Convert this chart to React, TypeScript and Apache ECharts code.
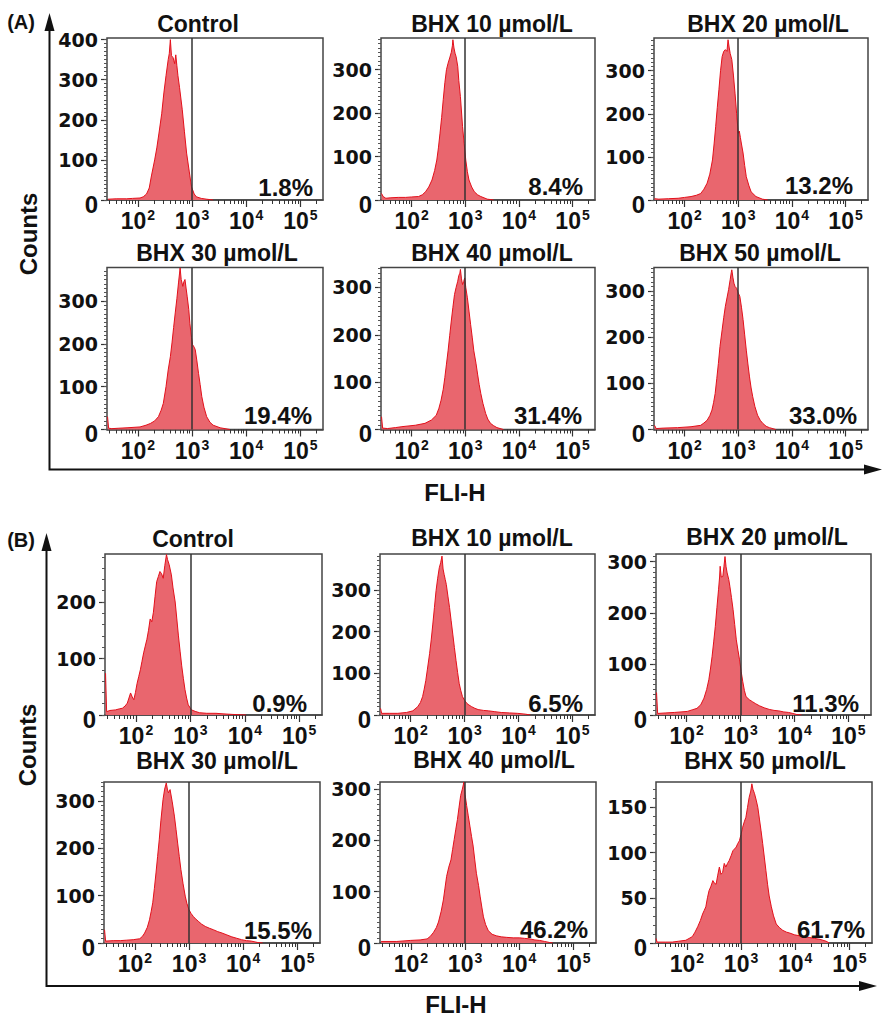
import React, { useEffect, useRef } from "react";
import * as echarts from "echarts";

// ---------- DATA (x = log10 of FL1-H fluorescence, y = cell counts) ----------
const A_CONTROL = [[1.45,2],[1.6,3],[1.79,3],[1.9,4],[2.04,5],[2.1,8],[2.16,15],[2.21,30],[2.25,60],[2.31,100],[2.35,130],[2.39,167],[2.44,215],[2.48,267],[2.52,310],[2.56,350],[2.58,365],[2.6,400],[2.62,360],[2.65,355],[2.68,340],[2.7,362],[2.72,335],[2.74,310],[2.77,280],[2.82,225],[2.86,170],[2.9,117],[2.95,70],[2.99,33],[3.04,15],[3.08,8],[3.17,4],[3.27,2],[3.39,0]];
const A_BHX10 = [[1.44,15],[1.47,8],[1.52,4],[1.6,5],[1.75,6],[1.89,6],[2.0,7],[2.13,8],[2.2,12],[2.26,19],[2.32,30],[2.38,46],[2.43,68],[2.47,92],[2.5,120],[2.53,154],[2.56,190],[2.59,231],[2.62,270],[2.65,300],[2.68,315],[2.71,327],[2.74,340],[2.76,355],[2.77,369],[2.79,350],[2.81,338],[2.83,330],[2.86,308],[2.88,275],[2.91,238],[2.95,169],[2.98,130],[3.01,92],[3.04,65],[3.07,46],[3.12,30],[3.17,19],[3.23,12],[3.29,8],[3.35,5],[3.41,2],[3.53,0]];
const A_BHX20 = [[1.44,3],[1.52,2],[1.7,3],[1.88,4],[2.0,6],[2.12,8],[2.22,11],[2.3,15],[2.36,25],[2.42,39],[2.47,60],[2.52,93],[2.55,130],[2.58,171],[2.61,215],[2.64,256],[2.67,300],[2.7,333],[2.73,345],[2.76,349],[2.79,345],[2.81,372],[2.83,355],[2.85,340],[2.88,326],[2.91,290],[2.94,248],[2.97,200],[3.0,155],[3.02,160],[3.04,145],[3.06,130],[3.09,109],[3.12,80],[3.15,54],[3.2,33],[3.24,19],[3.33,8],[3.45,2],[3.55,0]];
const A_BHX30 = [[1.44,30],[1.46,3],[1.52,2],[1.65,3],[1.8,4],[2.04,6],[2.15,10],[2.23,14],[2.31,20],[2.38,30],[2.43,45],[2.47,61],[2.52,100],[2.56,139],[2.6,170],[2.63,202],[2.66,238],[2.69,272],[2.72,305],[2.75,342],[2.77,365],[2.78,377],[2.8,350],[2.83,334],[2.85,345],[2.87,350],[2.89,330],[2.91,311],[2.94,280],[2.96,248],[2.99,215],[3.01,198],[3.04,192],[3.06,186],[3.09,160],[3.12,131],[3.15,105],[3.18,77],[3.22,52],[3.27,30],[3.33,17],[3.39,10],[3.52,4],[3.7,0]];
const A_BHX40 = [[1.44,27],[1.46,3],[1.55,2],[1.7,4],[1.82,6],[2.07,9],[2.25,13],[2.37,20],[2.46,30],[2.51,45],[2.55,62],[2.59,85],[2.62,110],[2.65,138],[2.68,166],[2.71,198],[2.74,229],[2.77,258],[2.8,285],[2.83,300],[2.86,313],[2.88,325],[2.9,330],[2.91,338],[2.93,318],[2.95,306],[2.97,312],[2.99,320],[3.01,300],[3.04,278],[3.07,250],[3.1,222],[3.13,195],[3.16,166],[3.2,140],[3.23,117],[3.26,95],[3.29,76],[3.33,55],[3.38,34],[3.42,22],[3.47,13],[3.53,8],[3.59,4],[3.71,0]];
const A_BHX50 = [[1.44,9],[1.47,2],[1.6,3],[1.87,4],[2.12,6],[2.3,9],[2.36,14],[2.42,20],[2.47,30],[2.51,42],[2.54,58],[2.57,78],[2.6,110],[2.63,143],[2.66,180],[2.7,216],[2.73,243],[2.76,267],[2.79,285],[2.82,303],[2.85,325],[2.87,340],[2.88,346],[2.9,330],[2.92,317],[2.94,310],[2.97,306],[3.0,296],[3.03,288],[3.06,265],[3.09,238],[3.12,205],[3.15,172],[3.18,142],[3.21,114],[3.24,90],[3.27,71],[3.31,50],[3.36,31],[3.41,20],[3.46,13],[3.52,7],[3.58,4],[3.7,0]];
const B_CONTROL = [[1.44,74],[1.46,6],[1.52,8],[1.62,9],[1.7,11],[1.75,12],[1.8,16],[1.84,21],[1.87,30],[1.9,39],[1.93,32],[1.96,27],[1.99,40],[2.02,56],[2.05,68],[2.08,80],[2.11,95],[2.14,110],[2.17,122],[2.2,134],[2.23,150],[2.26,170],[2.29,165],[2.32,182],[2.35,210],[2.38,236],[2.41,245],[2.44,254],[2.47,250],[2.5,242],[2.53,265],[2.56,284],[2.58,275],[2.61,266],[2.65,248],[2.68,225],[2.72,200],[2.75,170],[2.78,140],[2.81,113],[2.84,87],[2.87,65],[2.9,45],[2.93,30],[2.96,18],[3.02,9],[3.1,6],[3.17,4],[3.3,3],[3.47,3],[3.6,2],[3.78,1],[4.02,0]];
const B_BHX10 = [[1.44,16],[1.46,4],[1.6,4],[1.76,4],[1.92,6],[2.04,10],[2.13,20],[2.18,30],[2.22,44],[2.25,62],[2.28,83],[2.31,110],[2.35,147],[2.38,180],[2.41,218],[2.44,258],[2.47,298],[2.5,328],[2.53,353],[2.555,365],[2.58,381],[2.6,350],[2.62,337],[2.64,325],[2.66,313],[2.69,285],[2.72,258],[2.75,226],[2.78,194],[2.81,162],[2.84,131],[2.87,102],[2.9,75],[2.93,58],[2.96,44],[3.0,35],[3.04,28],[3.08,24],[3.13,20],[3.19,16],[3.25,13],[3.35,11],[3.44,10],[3.56,8],[3.68,6],[3.83,5],[3.98,4],[4.13,2],[4.22,0]];
const B_BHX20 = [[1.44,44],[1.46,3],[1.6,4],[1.77,5],[2.01,7],[2.1,10],[2.19,13],[2.26,20],[2.32,33],[2.37,50],[2.41,69],[2.44,90],[2.47,114],[2.5,143],[2.53,173],[2.56,210],[2.59,245],[2.61,270],[2.62,291],[2.64,270],[2.67,271],[2.69,290],[2.71,310],[2.73,290],[2.75,278],[2.78,265],[2.8,252],[2.83,230],[2.86,206],[2.89,177],[2.92,147],[2.95,127],[2.98,108],[3.01,85],[3.04,65],[3.07,48],[3.1,36],[3.16,30],[3.22,26],[3.28,22],[3.35,18],[3.44,14],[3.53,11],[3.62,9],[3.71,8],[3.8,6],[3.89,5],[3.97,3],[4.04,1],[4.13,0]];
const B_BHX30 = [[1.44,28],[1.46,4],[1.6,5],[1.73,5],[1.85,6],[1.97,7],[2.09,9],[2.14,14],[2.18,21],[2.23,33],[2.27,49],[2.3,66],[2.33,85],[2.36,115],[2.39,148],[2.42,183],[2.45,218],[2.48,258],[2.52,303],[2.55,325],[2.58,338],[2.6,325],[2.62,317],[2.65,324],[2.69,298],[2.73,268],[2.76,240],[2.79,211],[2.82,183],[2.85,155],[2.89,125],[2.93,99],[2.96,84],[3.0,70],[3.04,62],[3.08,56],[3.12,51],[3.17,46],[3.23,40],[3.3,35],[3.38,31],[3.45,28],[3.53,24],[3.61,21],[3.7,17],[3.79,13],[3.88,10],[3.97,7],[4.06,5],[4.15,4],[4.27,1],[4.36,0]];
const B_BHX40 = [[1.45,3],[1.74,3],[1.99,5],[2.17,6],[2.3,8],[2.36,13],[2.42,21],[2.47,30],[2.51,41],[2.56,62],[2.6,84],[2.63,107],[2.66,130],[2.7,148],[2.74,162],[2.77,182],[2.8,202],[2.83,222],[2.86,241],[2.89,265],[2.92,288],[2.95,300],[2.98,314],[3.0,290],[3.03,268],[3.06,248],[3.09,228],[3.12,208],[3.15,189],[3.18,162],[3.21,136],[3.25,112],[3.28,90],[3.31,70],[3.34,51],[3.38,36],[3.43,24],[3.5,17],[3.58,14],[3.67,12],[3.77,11],[3.89,10],[4.01,10],[4.1,9],[4.2,8],[4.29,6],[4.38,5],[4.47,3],[4.56,1],[4.62,0]];
const B_BHX50 = [[1.43,5],[1.45,1],[1.6,1],[1.73,1],[1.85,2],[1.98,3],[2.04,5],[2.1,7],[2.15,12],[2.2,18],[2.25,25],[2.29,32],[2.32,36],[2.35,40],[2.38,50],[2.41,58],[2.44,62],[2.48,69],[2.51,66],[2.54,65],[2.57,75],[2.6,84],[2.63,76],[2.66,78],[2.69,88],[2.72,84],[2.75,88],[2.78,91],[2.82,97],[2.85,102],[2.88,104],[2.91,106],[2.94,110],[2.97,113],[3.0,120],[3.03,128],[3.06,134],[3.09,139],[3.12,150],[3.15,161],[3.18,168],[3.2,176],[3.22,170],[3.25,165],[3.28,158],[3.31,150],[3.34,137],[3.37,124],[3.4,110],[3.43,95],[3.46,80],[3.49,65],[3.52,52],[3.56,40],[3.6,30],[3.65,21],[3.71,17],[3.77,14],[3.84,12],[3.9,11],[3.99,9],[4.08,8],[4.18,7],[4.27,6],[4.36,5],[4.46,4],[4.57,2],[4.63,0]];

const SERIES_DATA = [A_CONTROL, A_BHX10, A_BHX20, A_BHX30, A_BHX40, A_BHX50, B_CONTROL, B_BHX10, B_BHX20, B_BHX30, B_BHX40, B_BHX50];
const TITLES = ["Control", "BHX 10 µmol/L", "BHX 20 µmol/L", "BHX 30 µmol/L", "BHX 40 µmol/L", "BHX 50 µmol/L", "Control", "BHX 10 µmol/L", "BHX 20 µmol/L", "BHX 30 µmol/L", "BHX 40 µmol/L", "BHX 50 µmol/L"];
const PERCENTS = ["1.8%", "8.4%", "13.2%", "19.4%", "31.4%", "33.0%", "0.9%", "6.5%", "11.3%", "15.5%", "46.2%", "61.7%"];
const Y_MAX = [404, 373, 376, 378, 342, 351, 285, 386, 315, 340, 314, 178];
const Y_LABELS = [[0, 100, 200, 300, 400], [0, 100, 200, 300], [0, 100, 200, 300], [0, 100, 200, 300], [0, 100, 200, 300], [0, 100, 200, 300], [0, 100, 200], [0, 100, 200, 300], [0, 100, 200, 300], [0, 100, 200, 300], [0, 100, 200, 300], [0, 50, 100, 150]];
const Y_MINOR_STEP = [10, 10, 10, 10, 10, 10, 20, 10, 10, 10, 10, 10];
const X_DECADES = [2, 3, 4, 5];
const X_MIN = 1.43;
const X_MAX = 5.4185; // log10(262144)
const GATE = 3;
const AXIS_TITLE_X = "FLI-H";
const AXIS_TITLE_Y = "Counts";
const GROUP_LABELS = ["(A)", "(B)"];

// ---------- LAYOUT ----------
const BOXES = [
  [107, 38, 323, 200], [381, 38, 595, 200], [654, 38, 868, 200],
  [107, 267.5, 323, 429.5], [381, 267.5, 595, 429.5], [654, 267.5, 868, 429.5],
  [105, 554, 322, 715], [380, 554, 595, 715], [656, 554, 871, 715],
  [104, 782, 320, 943], [380, 782, 596, 943], [656, 782, 872, 943],
];
const TITLE_POS = [[198, 24], [492, 24], [768, 24], [217, 253], [492, 253], [760, 253], [193, 539], [492, 538], [767, 537], [217, 761], [494, 760], [765, 761]];
const PCT_POS = [[313, 187], [583, 186], [853, 185], [312, 415], [582, 415], [857, 415], [307, 703], [583, 703], [859, 703], [312, 930], [588, 929], [865, 929]];

const FONT = "'Liberation Sans', Arial, Helvetica, sans-serif";
const WIDE = "'DejaVu Sans', sans-serif";
const INK = "#111";
const FILL = "#E9666E";
const LINE = "#E3101B";

function buildOption() {
  const grid: any[] = [];
  const xAxis: any[] = [];
  const yAxis: any[] = [];
  const series: any[] = [];
  const xMinor: number[] = [];
  for (let d = 1; d <= 5; d++) for (let k = 2; k <= 9; k++) xMinor.push(d + Math.log10(k));

  BOXES.forEach(([l, t, r, b], i) => {
    grid.push({ left: l, top: t, width: r - l, height: b - t, show: true, borderColor: "#444", borderWidth: 1.5, backgroundColor: "transparent" });
    xAxis.push({
      type: "value", gridIndex: i, min: X_MIN, max: X_MAX, position: "bottom",
      axisLine: { show: true, onZero: false, lineStyle: { color: "#444", width: 1.5 } },
      splitLine: { show: false },
      axisTick: { show: true, customValues: X_DECADES, length: 7, lineStyle: { color: "#333", width: 1.2 } },
      axisLabel: {
        show: true, customValues: X_DECADES, margin: 8,
        formatter: (v: number) => `{b|10}{s|${Math.round(v)}}`,
        rich: {
          b: { fontFamily: FONT, fontWeight: "bold", fontSize: 23, color: INK, lineHeight: 26 },
          s: { fontFamily: FONT, fontWeight: "bold", fontSize: 14, color: INK, lineHeight: 14, verticalAlign: "top", padding: [0, 0, 0, 1] },
        },
      },
    });
    xAxis.push({
      type: "value", gridIndex: i, min: X_MIN, max: X_MAX, position: "bottom",
      axisLine: { show: false, onZero: false }, splitLine: { show: false }, axisLabel: { show: false },
      axisTick: { show: true, customValues: xMinor, length: 4, lineStyle: { color: "#333", width: 1 } },
    });
    const yMinor: number[] = [];
    for (let v = 0; v <= Y_MAX[i]; v += Y_MINOR_STEP[i]) yMinor.push(v);
    yAxis.push({
      type: "value", gridIndex: i, min: 0, max: Y_MAX[i], position: "left",
      axisLine: { show: false }, splitLine: { show: false },
      axisTick: { show: true, customValues: Y_LABELS[i], length: 6, lineStyle: { color: "#333", width: 1.2 } },
      axisLabel: {
        show: true, customValues: Y_LABELS[i], margin: 9,
        formatter: (v: number) => (v === 0 ? "{z|0}" : `{n|${v}}`),
        rich: {
          n: { fontFamily: WIDE, fontWeight: "bold", fontSize: 19, color: INK },
          z: { fontFamily: FONT, fontWeight: "bold", fontSize: 24, color: INK, padding: [8, 0, 0, 0] },
        },
      },
    });
    yAxis.push({
      type: "value", gridIndex: i, min: 0, max: Y_MAX[i], position: "left",
      axisLine: { show: false }, splitLine: { show: false }, axisLabel: { show: false },
      axisTick: { show: true, customValues: yMinor, length: 3, lineStyle: { color: "#555", width: 1 } },
    });
    series.push({
      type: "line", xAxisIndex: 2 * i, yAxisIndex: 2 * i, data: SERIES_DATA[i],
      symbol: "none", showSymbol: false, smooth: false,
      lineStyle: { color: LINE, width: 1 },
      areaStyle: { color: FILL, opacity: 1 },
      emphasis: { disabled: true }, silent: true,
      markLine: {
        silent: true, symbol: ["none", "none"], label: { show: false },
        lineStyle: { color: "#333", width: 1.5, type: "solid" },
        data: [{ xAxis: GATE }],
      },
    });
  });

  const graphic: any[] = [];
  TITLES.forEach((txt, i) => {
    graphic.push({ type: "text", x: TITLE_POS[i][0], y: TITLE_POS[i][1], style: { text: txt, fontFamily: FONT, fontWeight: "bold", fontSize: 23, fill: INK, align: "center", verticalAlign: "middle" } });
  });
  PERCENTS.forEach((txt, i) => {
    graphic.push({ type: "text", x: PCT_POS[i][0], y: PCT_POS[i][1], z: 10, style: { text: txt, fontFamily: FONT, fontWeight: "bold", fontSize: 24, fill: INK, align: "right", verticalAlign: "middle" } });
  });
  // group labels and frame axes
  const groups = [
    { label: [21, 22], vx: 49.5, top: 13, bottom: 469.5, right: 882, counts: [28, 234], fli: [455, 492] },
    { label: [21, 540], vx: 46.5, top: 533, bottom: 986, right: 877, counts: [27, 745], fli: [456, 1004] },
  ];
  groups.forEach((g, gi) => {
    graphic.push({ type: "text", x: g.label[0], y: g.label[1], style: { text: GROUP_LABELS[gi], fontFamily: FONT, fontWeight: "bold", fontSize: 20, fill: INK, align: "center", verticalAlign: "middle" } });
    graphic.push({ type: "polyline", shape: { points: [[g.vx, g.top + 12], [g.vx, g.bottom], [g.right - 12, g.bottom]] }, style: { stroke: "#111", lineWidth: 2, fill: "none" } });
    graphic.push({ type: "polygon", shape: { points: [[g.vx, g.top], [g.vx - 5, g.top + 18], [g.vx + 5, g.top + 18]] }, style: { fill: "#111" } });
    graphic.push({ type: "polygon", shape: { points: [[g.right, g.bottom], [g.right - 18, g.bottom - 5], [g.right - 18, g.bottom + 5]] }, style: { fill: "#111" } });
    graphic.push({ type: "text", x: g.counts[0], y: g.counts[1], rotation: Math.PI / 2, style: { text: AXIS_TITLE_Y, fontFamily: FONT, fontWeight: "bold", fontSize: 24, fill: INK, align: "center", verticalAlign: "middle" } });
    graphic.push({ type: "text", x: g.fli[0], y: g.fli[1], style: { text: AXIS_TITLE_X, fontFamily: FONT, fontWeight: "bold", fontSize: 24, fill: INK, align: "center", verticalAlign: "middle" } });
  });

  return { animation: false, backgroundColor: "#fff", grid, xAxis, yAxis, series, graphic };
}

export default function App() {
  const ref = useRef<HTMLDivElement>(null);
  useEffect(() => {
    if (!ref.current) return;
    const chart = echarts.init(ref.current, null, { renderer: "svg" });
    chart.setOption(buildOption() as any);
    return () => chart.dispose();
  }, []);
  return <div ref={ref} style={{ position: "absolute", left: 0, top: 0, width: 883, height: 1017 }} />;
}
